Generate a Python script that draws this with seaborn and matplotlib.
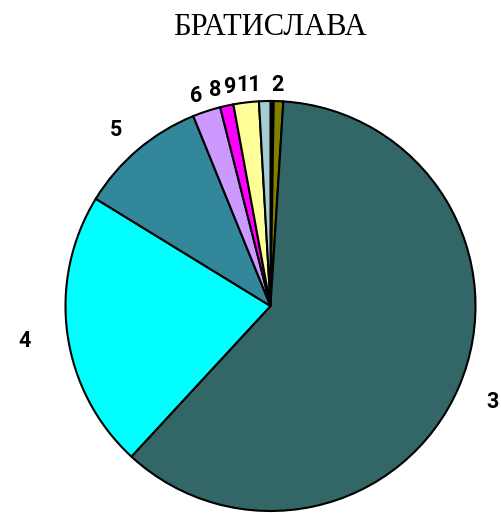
import numpy as np
import matplotlib
matplotlib.use("Agg")
import matplotlib.pyplot as plt
import seaborn as sns

# Shares by category (percent), in drawing order clockwise from 12 o'clock
categories = ["1", "2", "3", "4", "5", "6", "8", "9", "11"]
shares = [0.25, 0.75, 60.9, 21.9, 10.1, 2.2, 1.05, 2.0, 0.9]
colors = ["#000000", "#808000", "#336666", "#00FFFF", "#33879A",
          "#CC99FF", "#FF00FF", "#FFFF99", "#A6CDD1"]
title = "БРАТИСЛАВА"

# Label placement: radial distance (fraction of radius) and sideways shift (px)
label_radius = [1.083, 1.083, 1.176, 1.195, 1.132, 1.083, 1.083, 1.083, 1.083]
label_shift = [0, -2, 0, -3, -4, -5, -7.5, -14.5, -16]
min_labelled_share = 0.5

sns.set_theme(style="white")

W, H = 501, 513
fig = plt.figure(figsize=(W / 100, H / 100), dpi=100)
ax = fig.add_axes([0, 0, 1, 1])

cx, cy, R = 270.5, H - 306, 205
wedges, _ = ax.pie(
    shares,
    colors=colors,
    startangle=90,
    counterclock=False,
    center=(cx, cy),
    radius=R,
    wedgeprops=dict(edgecolor="black", linewidth=1.5),
)
ax.set_xlim(0, W)
ax.set_ylim(0, H)
ax.set_aspect("equal")
ax.axis("off")

for w, lab, val, rf, sh in zip(wedges, categories, shares, label_radius, label_shift):
    if val < min_labelled_share:
        continue
    mid = np.deg2rad((w.theta1 + w.theta2) / 2)
    x = cx + R * rf * np.cos(mid) + sh
    y = cy + R * rf * np.sin(mid) - 7
    ax.text(x, y, lab, ha="center", va="baseline", fontsize=15.5,
            fontweight="bold", family="Roboto", color="black")

fig.text(270 / W, 1 - 35 / H, title, ha="center", va="baseline",
         fontsize=22, family="Liberation Serif", color="black")

fig.savefig("out.png", dpi=100)
